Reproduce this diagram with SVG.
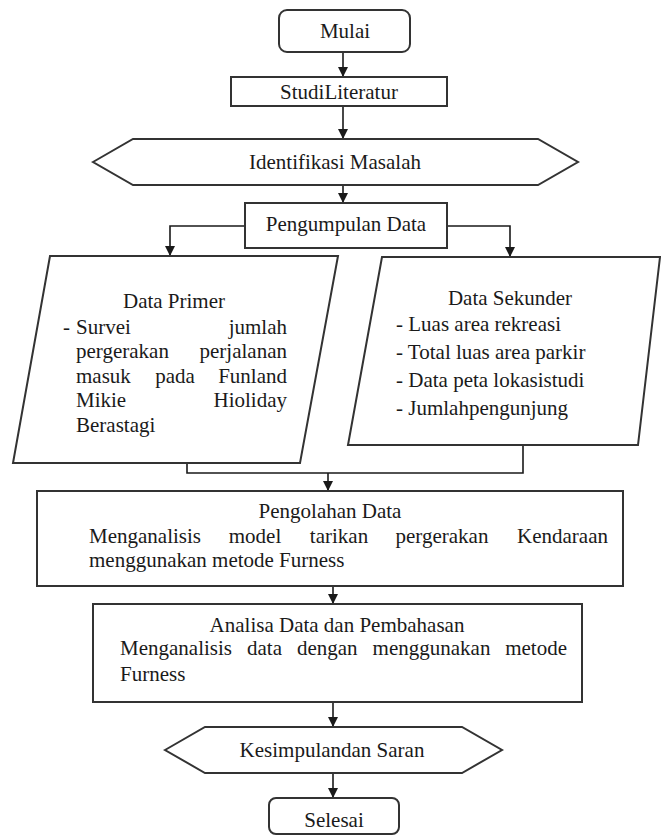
<svg xmlns="http://www.w3.org/2000/svg" width="661" height="837" viewBox="0 0 661 837">
<style>
.shape{fill:#fff;stroke:#333;stroke-width:2}
.t{font-family:"Liberation Serif","Times New Roman",serif;font-size:21px;fill:#1a1a1a}
.c{text-anchor:middle}
.e{text-anchor:end}
.conn{fill:none;stroke:#1a1a1a;stroke-width:1.6}
</style>
<defs>
<marker id="ah" viewBox="0 0 10 10" refX="10" refY="5" markerWidth="10" markerHeight="10" markerUnits="userSpaceOnUse" orient="auto">
<path d="M0,0 L10,5 L0,10 z" fill="#1a1a1a"/>
</marker>
</defs>
<rect width="661" height="837" fill="#fff"/>
<g id="connectors">
<line class="conn" x1="343" y1="52" x2="343" y2="77" marker-end="url(#ah)"/>
<line class="conn" x1="343" y1="106" x2="343" y2="139" marker-end="url(#ah)"/>
<line class="conn" x1="343" y1="185" x2="343" y2="203" marker-end="url(#ah)"/>
<polyline class="conn" points="245,226 170,226 170,256" marker-end="url(#ah)"/>
<polyline class="conn" points="447,226 510,226 510,257" marker-end="url(#ah)"/>
<polyline class="conn" points="187,463 187,473 523,473 523,445"/>
<line class="conn" x1="328" y1="473" x2="328" y2="491" marker-end="url(#ah)"/>
<line class="conn" x1="333" y1="586" x2="333" y2="604" marker-end="url(#ah)"/>
<line class="conn" x1="333" y1="702" x2="333" y2="727" marker-end="url(#ah)"/>
<line class="conn" x1="333" y1="773" x2="333" y2="798" marker-end="url(#ah)"/>
</g>
<g id="mulai">
<rect class="shape" x="279" y="10" width="131" height="42" rx="8"/>
<text class="t c" x="345" y="38">Mulai</text>
</g>
<g id="studi">
<rect class="shape" x="231" y="77" width="216" height="29"/>
<text class="t c" x="339" y="99">StudiLiteratur</text>
</g>
<g id="identifikasi">
<polygon class="shape" points="93,162 133,139 538,139 578,162 538,185 133,185"/>
<text class="t c" x="335" y="169">Identifikasi Masalah</text>
</g>
<g id="pengumpulan">
<rect class="shape" x="245" y="203" width="202" height="45"/>
<text class="t c" x="346" y="231">Pengumpulan Data</text>
</g>
<g id="primer">
<polygon class="shape" points="50,256 338,256 300,463 13,463"/>
<text class="t c" x="174" y="308">Data Primer</text>
<text class="t" x="63" y="334">-</text>
<text class="t" x="76" y="334">Survei</text>
<text class="t e" x="287" y="334">jumlah</text>
<text class="t" x="76" y="358">pergerakan</text>
<text class="t e" x="287" y="358">perjalanan</text>
<text class="t" x="76" y="383">masuk</text>
<text class="t c" x="175" y="383">pada</text>
<text class="t e" x="287" y="383">Funland</text>
<text class="t" x="76" y="407">Mikie</text>
<text class="t e" x="287" y="407">Hioliday</text>
<text class="t" x="76" y="432">Berastagi</text>
</g>
<g id="sekunder">
<polygon class="shape" points="382,257 660,257 638,445 348,445"/>
<text class="t c" x="510" y="305">Data Sekunder</text>
<text class="t" x="396" y="331">- Luas area rekreasi</text>
<text class="t" x="396" y="359">- Total luas area parkir</text>
<text class="t" x="396" y="387">- Data peta lokasistudi</text>
<text class="t" x="396" y="415">- Jumlahpengunjung</text>
</g>
<g id="pengolahan">
<rect class="shape" x="37" y="491" width="586" height="95"/>
<text class="t c" x="330" y="518">Pengolahan Data</text>
<text class="t" x="89" y="543">Menganalisis</text>
<text class="t c" x="255" y="543">model</text>
<text class="t c" x="339" y="543">tarikan</text>
<text class="t c" x="442" y="543">pergerakan</text>
<text class="t e" x="608" y="543">Kendaraan</text>
<text class="t" x="89" y="567">menggunakan metode Furness</text>
</g>
<g id="analisa">
<rect class="shape" x="93" y="604" width="489" height="98"/>
<text class="t c" x="337" y="632">Analisa Data dan Pembahasan</text>
<text class="t" x="120" y="655">Menganalisis</text>
<text class="t c" x="264.5" y="655">data</text>
<text class="t c" x="327.3" y="655">dengan</text>
<text class="t c" x="431.5" y="655">menggunakan</text>
<text class="t e" x="567" y="655">metode</text>
<text class="t" x="120" y="681">Furness</text>
</g>
<g id="kesimpulan">
<polygon class="shape" points="165,750 205,727 462,727 502,750 462,773 205,773"/>
<text class="t c" x="332" y="757">Kesimpulandan Saran</text>
</g>
<g id="selesai">
<rect class="shape" x="269" y="798" width="130" height="36" rx="7"/>
<text class="t c" x="334" y="827">Selesai</text>
</g>
</svg>
